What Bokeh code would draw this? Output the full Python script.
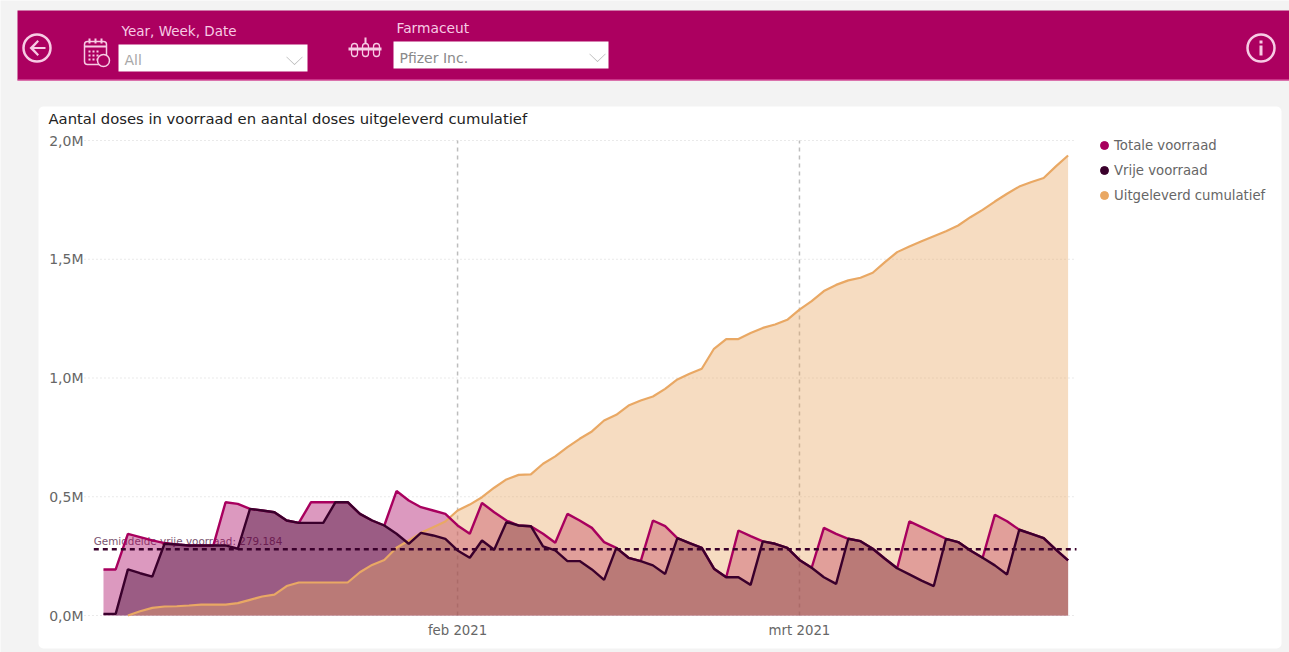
import pandas as pd
from bokeh.plotting import figure
from bokeh.models import (BoxAnnotation, Label, PolyAnnotation, Range1d, FixedTicker,
                          Legend, LegendItem, ColumnDataSource)
from bokeh.core.properties import value
from bokeh.embed import file_html
from bokeh.resources import INLINE

first_day = "2021-01-03"
totale_voorraad = [194,194,344,330,316,305,299,295,295,295,477,470,449,442,435,400,390,477,477,477,
                   477,428,400,379,524,484,456,442,428,379,344,474,435,400,379,376,344,306,428,400,
                   369,309,285,243,229,400,376,326,305,285,197,161,358,334,312,302,285,234,201,369,
                   344,323,313,281,239,199,396,372,348,323,309,274,243,424,397,361,344,326,277,232]
vrije_voorraad = [7,7,194,178,164,302,299,295,295,295,295,281,449,442,435,400,390,390,390,477,
                  477,428,400,379,344,302,348,337,323,274,243,316,277,393,379,376,291,274,229,229,
                  194,150,285,243,229,211,175,326,305,285,197,161,161,129,312,302,285,234,201,161,
                  133,323,313,281,239,199,173,147,124,323,309,274,243,211,173,361,344,326,277,232]
uitgeleverd = [0,18,32,38,39,42,46,46,46,52,66,80,88,124,139,139,139,139,139,182,
               213,234,285,316,348,372,396,442,467,498,538,573,592,594,639,670,709,744,775,821,
               845,884,905,922,954,994,1018,1039,1123,1164,1164,1189,1211,1225,1245,1288,1324,1366,1392,1411,
               1422,1443,1488,1530,1554,1576,1597,1618,1642,1677,1708,1743,1776,1806,1825,1842,1891,1937]
gemiddelde = 279184
y_ticks = [0, 500000, 1000000, 1500000, 2000000]
y_labels = ["0,0M", "0,5M", "1,0M", "1,5M", "2,0M"]
x_ticks = ["2021-02-01", "2021-03-01"]
x_labels = ["feb 2021", "mrt 2021"]
series_names = ["Totale voorraad", "Vrije voorraad", "Uitgeleverd cumulatief"]

PINK, DARK, ORANGE = "#A8005E", "#3A002C", "#E9A864"
HEADER, SOFT = "#AC0060", "#F7CBE4"
FONT = "DejaVu Sans"

days = pd.date_range(first_day, periods=len(vrije_voorraad), freq="D")
scale = lambda a: [v * 1000 for v in a]
src_a = ColumnDataSource(dict(x=days, t=scale(totale_voorraad), f=scale(vrije_voorraad), z=[0] * len(days)))
src_b = ColumnDataSource(dict(x=days[2:], c=scale(uitgeleverd), z=[0] * (len(days) - 2)))

W, H = 1289, 652
origin = pd.Timestamp(first_day)
left_edge = origin - pd.Timedelta(hours=37.3)     # where the plot's own area starts
right_edge = origin + pd.Timedelta(hours=1912.5)  # and ends
p = figure(width=W, height=H, output_backend="svg", toolbar_location=None,
           x_axis_type="datetime",
           x_range=Range1d(origin - pd.Timedelta(hours=202.4), origin + pd.Timedelta(hours=2331.2)),
           y_range=Range1d(-155789, 2589474),
           min_border_left=0, min_border_right=0, min_border_top=0, min_border_bottom=0)
p.background_fill_color = "#F3F3F3"
p.border_fill_color = "#F3F3F3"
p.outline_line_color = None


def box(l, t, r, b, fill=None, line=None, lw=1, radius=0, level="image"):
    a = BoxAnnotation(left=l, right=r, top=t, bottom=b,
                      left_units="canvas", right_units="canvas", top_units="canvas", bottom_units="canvas",
                      fill_color=fill, fill_alpha=1 if fill else 0, line_color=line, line_alpha=1 if line else 0,
                      line_width=lw, border_radius=radius, level=level, editable=False)
    p.add_layout(a)


def poly(xs, ys, fill):
    p.add_layout(PolyAnnotation(xs=xs, ys=ys, xs_units="canvas", ys_units="canvas",
                                fill_color=fill, fill_alpha=1, line_color=None, level="overlay", editable=False))


def text(x, y, s, size, color, style="normal"):
    p.add_layout(Label(x=x, y=y, x_units="canvas", y_units="canvas", text=s, text_font=FONT,
                       text_font_size=f"{size}px", text_color=color, text_baseline="middle", text_font_style=style,
                       level="overlay"))


def chevron(cx, cy):
    poly([cx - 8, cx, cx + 8, cx + 8, cx, cx - 8], [cy - 4, cy + 3.4, cy - 4, cy - 3.2, cy + 4.4, cy - 3.2], "#B5B5B5")


# page furniture
box(38, 106, 1281, 648, fill="#FFFFFF", radius=5)
box(17, 10, 1289, 80, fill=HEADER)
box(17, 79, 1289, 80, fill="#E56BB0")
box(118, 44, 307, 71, fill="#FFFFFF", level="overlay")
box(393, 41, 608, 68, fill="#FFFFFF", level="overlay")
chevron(294, 60)
chevron(597, 57)

# back icon
box(23, 34, 50, 61, line=SOFT, lw=2.5, radius=14, level="overlay")
poly([29, 37, 38.5, 33.5, 45, 45, 33.5, 38.5, 37], [47.5, 39.5, 41, 46.5, 46.5, 48.5, 48.5, 54, 55.5], SOFT)
# info icon
box(1247, 34, 1274, 61, line=SOFT, lw=2.5, radius=14, level="overlay")
box(1259, 45, 1262, 55, fill=SOFT, level="overlay")
box(1259, 40, 1262, 43, fill=SOFT, level="overlay")
# calendar icon
box(84, 41, 106, 64, line=SOFT, lw=1.5, radius=3, level="overlay")
box(84, 45, 106, 47, fill=SOFT, level="overlay")
for cx in (89, 95, 101):
    box(cx - 1, 38, cx + 1, 43, fill=SOFT, level="overlay")
for cy in (50, 54, 58):
    for cx in (88, 92, 96):
        box(cx, cy, cx + 2, cy + 2, fill=SOFT, level="overlay")
box(97, 54, 109, 66, fill=HEADER, line=SOFT, lw=1.5, radius=6, level="overlay")
# vial icon
box(348, 47, 381, 50, fill=SOFT, level="overlay")
for cx in (354, 365, 376):
    box(cx - 3, 43, cx + 3, 56, line=SOFT, lw=1.3, radius=3, level="overlay")
box(364, 37, 366, 43, fill=SOFT, level="overlay")

text(121, 30, "Year, Week, Date", 13.5, SOFT)
text(124, 59, "All", 14, "#A8A8A8")
text(396, 27, "Farmaceut", 13.8, SOFT)
text(399, 57, "Pfizer Inc.", 14, "#8A8A8A")
text(48, 118, "Aantal doses in voorraad en aantal doses uitgeleverd cumulatief", 14.8, "#222222")

# grid
p.grid.visible = False
x_dates = [pd.Timestamp(d) for d in x_ticks]
p.segment(x0=[left_edge] * len(y_ticks), x1=[right_edge] * len(y_ticks), y0=y_ticks, y1=y_ticks,
          line_color="#D4D4D4", line_width=1, line_dash="1 3")
p.segment(x0=x_dates, x1=x_dates, y0=[y_ticks[0]] * 2, y1=[y_ticks[-1]] * 2,
          line_color="#BDBDBD", line_width=1.5, line_dash="4 4")

# average label sits below the areas
p.text(x=[pd.Timestamp("2021-01-02 05:00")], y=[gemiddelde + 9000], text=[f"Gemiddelde vrije voorraad: {gemiddelde:,}".replace(",", ".")],
       text_font=value(FONT), text_font_size="10.4px", text_color="#7A5470", text_baseline="bottom")

# areas
p.varea(x="x", y1="z", y2="t", source=src_a, fill_color=PINK, fill_alpha=0.4)
p.varea(x="x", y1="z", y2="f", source=src_a, fill_color=DARK, fill_alpha=0.4)
p.varea(x="x", y1="z", y2="c", source=src_b, fill_color=ORANGE, fill_alpha=0.4)
# lines
p.line(x="x", y="c", source=src_b, line_color=ORANGE, line_width=2.2)
p.line(x="x", y="t", source=src_a, line_color=PINK, line_width=2.4)
p.line(x="x", y="f", source=src_a, line_color=DARK, line_width=2.4)
p.line(x=[pd.Timestamp("2021-01-02 05:00"), right_edge], y=[gemiddelde, gemiddelde],
       line_color=DARK, line_width=2.5, line_dash="5 4")

# axes
p.yaxis.ticker = FixedTicker(ticks=y_ticks)
p.yaxis.major_label_overrides = dict(zip(y_ticks, y_labels))
x_ms = [d.value // 10**6 for d in x_dates]
p.xaxis.ticker = FixedTicker(ticks=x_ms)
p.xaxis.major_label_overrides = dict(zip(x_ms, x_labels))
p.yaxis.fixed_location = (left_edge + pd.Timedelta(hours=11.8)).value // 10**6
p.xaxis.fixed_location = 0
for ax in (p.xaxis[0], p.yaxis[0]):
    ax.axis_line_color = None
    ax.major_tick_line_color = None
    ax.minor_tick_line_color = None
    ax.major_label_text_font = FONT
    ax.major_label_text_color = "#666666"
p.yaxis.major_label_text_font_size = "14px"
p.xaxis.major_label_text_font_size = "13.3px"
p.yaxis.major_label_standoff = 1
p.xaxis.major_label_standoff = 1

# legend (one hidden point per key so that each key keeps its colour)
rs = [p.scatter(x=[days[0]], y=[float("nan")], size=9, color=c) for c in (PINK, DARK, ORANGE)]
legend = Legend(items=[LegendItem(label=n, renderers=[r]) for n, r in zip(series_names, rs)],
                location=(1094, 445), orientation="vertical", border_line_color=None, background_fill_alpha=0,
                label_text_font=FONT, label_text_font_size="13.25px", label_text_color="#666666",
                glyph_width=20, glyph_height=24, label_height=24, label_standoff=0, spacing=1, padding=0, margin=0)
p.add_layout(legend, "center")

open("out.html", "w").write(file_html(p, INLINE))
